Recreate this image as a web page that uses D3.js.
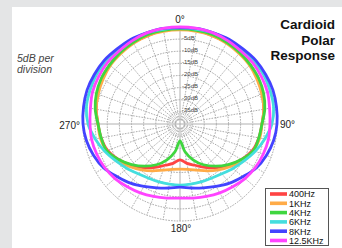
<!DOCTYPE html>
<html><head><meta charset="utf-8">
<script src="https://cdn.jsdelivr.net/npm/d3@7"></script>
<style>
html,body{margin:0;padding:0;background:#e4e5e6;}
svg{display:block;}
text{font-family:"Liberation Sans",Arial,sans-serif;}
</style></head>
<body>
<svg id="c" width="342" height="248"></svg>
<script>
const angles = d3.range(0, 360, 10);
const seriesNames = ["400Hz","1KHz","4KHz","6KHz","8KHz","12.5KHz"];
const seriesColors = ["#ff4343","#ffab47","#3fd63f","#44dede","#4343ff","#ff43ff"];
const s400 = [-0.8,-0.8,-1.2,-1.2,-1.6,-2.1,-2.9,-3.7,-4.9,-6.2,-7.0,-8.2,-10.7,-13.6,-16.5,-19.4,-21.9,-23.5,-25.2,
  -23.5,-21.9,-19.4,-16.5,-13.6,-10.7,-8.2,-7.0,-6.2,-4.9,-3.7,-2.9,-2.1,-1.6,-1.2,-1.2,-0.8];
const s1k = [-1.2,-1.2,-1.2,-1.6,-2.1,-2.5,-3.3,-4.1,-4.9,-6.2,-6.6,-7.8,-9.9,-12.8,-15.3,-17.7,-19.8,-21.0,-21.4,
  -21.0,-19.8,-17.7,-15.3,-12.8,-9.9,-7.8,-6.6,-6.2,-4.9,-4.1,-3.3,-2.5,-2.1,-1.6,-1.2,-1.2];
const s4k = [-0.8,-0.8,-0.8,-1.2,-1.6,-2.1,-2.5,-3.3,-4.5,-6.2,-7.0,-7.8,-10.7,-14.0,-17.3,-20.6,-24.3,-28.5,-33.0,
  -28.5,-24.3,-20.6,-17.3,-14.0,-10.7,-7.8,-7.0,-6.2,-4.5,-3.3,-2.5,-2.1,-1.6,-1.2,-0.8,-0.8];
const s6k = [-0.4,-0.4,0,0,0,0,0,-0.4,-0.8,-2.1,-4.5,-7.0,-9.5,-11.5,-13.2,-14.2,-14.6,-14.8,-14.8,
  -14.8,-14.6,-14.2,-13.2,-11.5,-9.5,-7.0,-4.5,-2.1,-0.8,-0.4,0,0,0,0,0,-0.4];
const s8k = [-0.4,0,0,0.4,0.4,0.8,0.8,0.8,0.4,0,-0.8,-2.1,-3.7,-6.2,-8.2,-10.3,-12.0,-13.2,-14.0,
  -13.2,-12.0,-10.3,-8.2,-6.2,-3.7,-2.1,-0.8,0,0.4,0.8,0.8,0.8,0.4,0.4,0,0];
const s12k = [0,0,0,-0.4,-0.8,-0.8,-1.2,-1.6,-2.5,-2.9,-3.0,-3.5,-4.1,-5.0,-6.2,-7.2,-8.2,-9.0,-9.4,
  -9.0,-8.2,-7.2,-6.2,-5.0,-4.1,-3.5,-3.0,-2.9,-2.5,-1.6,-1.2,-0.8,-0.8,-0.4,0,0];
const seriesValues = [s400, s1k, s4k, s6k, s8k, s12k];
const ringLevels = [-35,-30,-25,-20,-15,-10,-5,0];
const ringLabels = ["-35dB","-30dB","-25dB","-20dB","-15dB","-10dB","-5dB"];
const spokeAngles = d3.range(0, 360, 10);
const axisLabels = ["0°","90°","180°","270°"];

const svg = d3.select("#c");
svg.append("rect").attr("x",12).attr("y",7).attr("width",330).attr("height",241).attr("fill","#fff");

const cx = 180, cy = 124, R = 97;
const r = d3.scaleLinear().domain([-40,0]).range([0,R]);
const g = svg.append("g").attr("transform",`translate(${cx},${cy})`);

// spokes
g.selectAll("line.spoke").data(spokeAngles.filter(a=>a%90!==0)).join("line")
  .attr("x1",a=>4*Math.sin(a*Math.PI/180)).attr("y1",a=>-4*Math.cos(a*Math.PI/180))
  .attr("x2",a=>R*Math.sin(a*Math.PI/180)).attr("y2",a=>-R*Math.cos(a*Math.PI/180))
  .attr("stroke","#999").attr("stroke-width",0.8).attr("stroke-dasharray","1.6,1.2");
// rings
g.selectAll("circle.ring").data(ringLevels).join("circle")
  .attr("r",d=>r(d)).attr("fill","none")
  .attr("stroke","#8f8f8f").attr("stroke-width",0.8).attr("stroke-dasharray","1.6,1.2");
// main axes
g.selectAll("line.axis").data([0,90]).join("line")
  .attr("x1",a=>-R*Math.sin(a*Math.PI/180)).attr("y1",a=>R*Math.cos(a*Math.PI/180))
  .attr("x2",a=>R*Math.sin(a*Math.PI/180)).attr("y2",a=>-R*Math.cos(a*Math.PI/180))
  .attr("stroke","#b0b0b0").attr("stroke-width",1);

// curves
const line = d3.lineRadial()
  .angle((d,i)=>angles[i]*Math.PI/180)
  .radius(d=>r(d))
  .curve(d3.curveCatmullRomClosed.alpha(0.5));
g.selectAll("path.curve").data(seriesValues).join("path")
  .attr("d",d=>line(d)).attr("fill","none")
  .attr("stroke",(d,i)=>seriesColors[i]).attr("stroke-width",2.8);

// dB labels
g.selectAll("text.db").data(ringLabels).join("text")
  .attr("x",2).attr("y",(d,i)=>-r(ringLevels[i])+0.5)
  .attr("font-size",6).attr("fill","#444").text(d=>d);

// angle labels
svg.append("text").attr("x",180).attr("y",23).attr("text-anchor","middle").attr("font-size",10).attr("fill","#222").text(axisLabels[0]);
svg.append("text").attr("x",280).attr("y",128).attr("font-size",10).attr("fill","#222").text(axisLabels[1]);
svg.append("text").attr("x",181).attr("y",232).attr("text-anchor","middle").attr("font-size",10).attr("fill","#222").text(axisLabels[2]);
svg.append("text").attr("x",80).attr("y",129).attr("text-anchor","end").attr("font-size",10).attr("fill","#222").text(axisLabels[3]);

// title
const t = svg.append("text").attr("text-anchor","end").attr("font-size",13.5).attr("font-weight","bold").attr("fill","#111");
["Cardioid","Polar","Response"].forEach((s,i)=>t.append("tspan").attr("x",335).attr("y",29+i*15.5).text(s));

// side note
const n = svg.append("text").attr("font-size",10.5).attr("font-style","italic").attr("fill","#444");
["5dB per","division"].forEach((s,i)=>n.append("tspan").attr("x",17).attr("y",62+i*10.5).text(s));

// legend
const lg = svg.append("g");
lg.append("rect").attr("x",265.5).attr("y",188.5).attr("width",63).attr("height",57)
  .attr("fill","#fff").attr("stroke","#555").attr("stroke-width",1);
const rows = lg.selectAll("g.row").data(seriesNames).join("g")
  .attr("transform",(d,i)=>`translate(270,${194+i*9.3})`);
rows.append("rect").attr("x",0).attr("y",-1.8).attr("width",17).attr("height",3.6).attr("fill",(d,i)=>seriesColors[i]);
rows.append("text").attr("x",19).attr("y",3.3).attr("font-size",9).attr("fill","#111").text(d=>d);
</script>
</body></html>
